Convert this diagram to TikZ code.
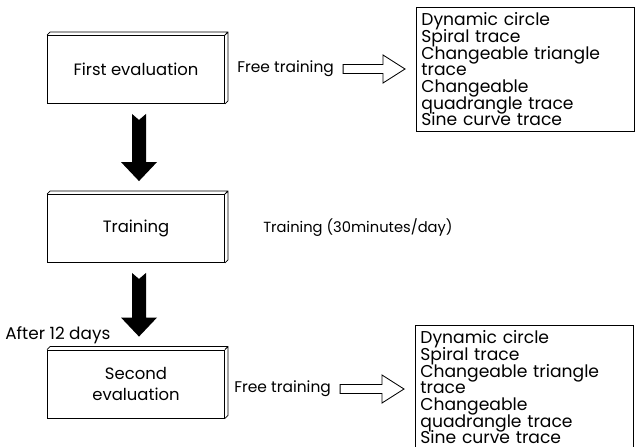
\documentclass[tikz,border=0pt]{standalone}
\usepackage{fontspec}
\setmainfont{Poppins}
\usetikzlibrary{positioning}
\usetikzlibrary{calc}
\DeclareRobustCommand{\listfont}{\fontsize{12.2}{11.85}\selectfont\lineskiplimit=-20pt\relax}

\begin{document}
\begin{tikzpicture}[x=0.025cm, y=-0.025cm, font=\fontsize{11}{11.9}\selectfont]

\tikzset{%
    every stage/.style = {
        draw,
        line width=0.6pt,
        minimum width=4.425cm,
        minimum height=1.7cm,
        align=center,
        font=\fontsize{11.7}{14}\selectfont
    },
    every list/.style = {
        draw,
        line width=0.6pt,
        anchor=north west,
        text width=5.2cm,
        inner xsep=0.125cm,
        minimum height=3.1cm,
        align=left,
        font=\listfont
    },
    every label/.style = {
        inner sep=0pt,
        anchor=west
    }
}

\useasboundingbox (0,0) rectangle (640,447);

% stages
\node [every stage] (first) at (136,69.5) {First evaluation};
\node [every stage] (training) at (136,228.5) {Training};
\node [every stage] (second) at (136,384) {Second\\[1pt] evaluation};

\foreach \n in {first,training,second}
  \draw [line width=0.6pt] (\n.north west) -- ++(3,-3) -- ($(\n.north east)+(3,-3)$)
    -- ($(\n.south east)+(3,-3)$) -- (\n.south east)
    (\n.north east) -- ++(3,-3);

% side texts
\node [every label] (free1) at (237,69) {Free training};
\node [every label, font=\fontsize{10.45}{12}\selectfont] (daily) at (263,228) {Training (30minutes/day)};
\node [every label] (free2) at (234,389) {Free training};
\node [every label, font=\fontsize{12}{14}\selectfont] (after) at (5,335) {After 12 days};

% task lists
\node [every list] (list1) at (416,7) {Dynamic circle\\ Spiral trace\\ Changeable triangle\\ trace\\ Changeable\\ quadrangle trace\\ Sine curve trace};
\node [every list] (list2) at (415,325) {Dynamic circle\\ Spiral trace\\ Changeable triangle\\ trace\\ Changeable\\ quadrangle trace\\ Sine curve trace};

% black arrows
\foreach \s/\t in {first/training,training/second}
{
  \coordinate (a) at ($(\s.south)+(3,10)$);
  \coordinate (b) at ($(\t.north)+(3,-13)$);
  \fill ($(a)+(-7,0)$) -- ($(a)+(0,6)$) -- ($(a)+(7,0)$) -- ($(b)+(7,-19)$)
    -- ($(b)+(18,-19)$) -- (b) -- ($(b)+(-18,-19)$) -- ($(b)+(-7,-19)$) -- cycle;
}

% hollow arrows
\foreach \f/\l in {free1/list1,free2/list2}
{
  \coordinate (s) at ($(\f.east)+(9,0)$);
  \coordinate (e) at ($(\l.west |- \f.east)+(-11,0)$);
  \draw [line width=0.6pt] ($(s)+(0,-4.5)$) -- ($(e)+(-22,-4.5)$) -- ($(e)+(-22,-14)$)
    -- (e) -- ($(e)+(-22,14)$) -- ($(e)+(-22,4.5)$) -- ($(s)+(0,4.5)$) -- cycle;
}

\end{tikzpicture}
\end{document}
